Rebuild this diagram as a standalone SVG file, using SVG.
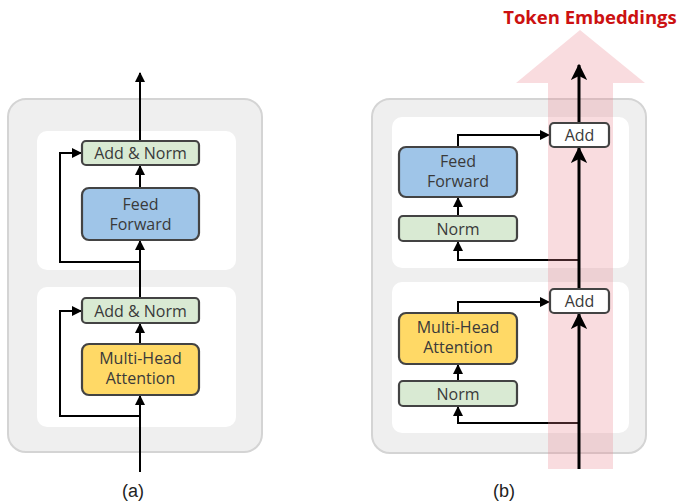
<svg xmlns="http://www.w3.org/2000/svg" width="680" height="502" viewBox="0 0 680 502">
  <defs>
    <style>
      .outer { fill: #efefef; stroke: #d4d4d4; stroke-width: 2; }
      .inner { fill: #ffffff; }
      .node { stroke: #434343; stroke-width: 2.2; }
      .green { fill: #d9ead3; }
      .blue { fill: #9fc5e8; }
      .yellow { fill: #ffd966; }
      .white { fill: #ffffff; }
      .lbl { font-family: "Open Sans", Lato, sans-serif; font-size: 16px; fill: #3a3a3a; text-anchor: middle; }
      .cap { font-family: "Liberation Sans", Arial, sans-serif; font-size: 18px; fill: #222222; text-anchor: middle; }
      .wire { fill: none; stroke: #000000; stroke-width: 2; }
      .main { fill: none; stroke: #000000; stroke-width: 3; }
    </style>
    <marker id="ah" viewBox="0 0 10 10" refX="9" refY="5" markerWidth="5" markerHeight="5" markerUnits="strokeWidth" orient="auto">
      <path d="M0,0 L10,5 L0,10 Z" fill="#000"/>
    </marker>
    <marker id="ahBig" viewBox="0 0 12 12" refX="11" refY="6" markerWidth="5.5" markerHeight="5.5" markerUnits="strokeWidth" orient="auto">
      <path d="M0,0 L12,6 L0,12 L3,6 Z" fill="#000"/>
    </marker>
  </defs>

  <!-- (a) post-norm transformer layer -->
  <g id="panel-a">
    <rect class="outer" x="8" y="99" width="254" height="353" rx="18"/>
    <rect class="inner" x="37" y="131" width="199" height="139" rx="10"/>
    <rect class="inner" x="37" y="287" width="199" height="140" rx="10"/>
  </g>

  <!-- (b) pre-norm layer with the residual stream -->
  <g id="panel-b">
    <rect class="outer" x="372" y="99" width="274" height="354" rx="18"/>
    <rect class="inner" x="392" y="117" width="237" height="151" rx="10"/>
    <rect class="inner" x="392" y="282" width="237" height="151" rx="10"/>
  </g>

  <g id="connectors">
    <!-- panel a -->
    <line class="wire" x1="140" y1="472" x2="140" y2="396" marker-end="url(#ah)"/>
    <line class="wire" x1="140" y1="344" x2="140" y2="324" marker-end="url(#ah)"/>
    <polyline class="wire" points="140,416 60,416 60,311 81,311" marker-end="url(#ah)"/>
    <line class="wire" x1="140" y1="298" x2="140" y2="241" marker-end="url(#ah)"/>
    <polyline class="wire" points="140,262 60,262 60,153 81,153" marker-end="url(#ah)"/>
    <line class="wire" x1="140" y1="188" x2="140" y2="166" marker-end="url(#ah)"/>
    <line class="wire" x1="140" y1="141" x2="140" y2="73" marker-end="url(#ah)"/>
    <!-- panel b -->
    <polyline class="wire" points="579,423 458,423 458,407" marker-end="url(#ah)"/>
    <line class="wire" x1="458" y1="381" x2="458" y2="365" marker-end="url(#ah)"/>
    <polyline class="wire" points="458,313 458,302 549,302" marker-end="url(#ah)"/>
    <polyline class="wire" points="579,260 458,260 458,242" marker-end="url(#ah)"/>
    <line class="wire" x1="458" y1="216" x2="458" y2="198" marker-end="url(#ah)"/>
    <polyline class="wire" points="458,147 458,135 549,135" marker-end="url(#ah)"/>
  </g>

  <!-- residual stream: token embeddings flowing up -->
  <g id="stream">
    <path d="M548,469 L548,83 L516,83 L580,30 L645,83 L613,83 L613,469 Z" fill="#e8828c" fill-opacity="0.28"/>
    <line class="main" x1="579" y1="469" x2="579" y2="314" marker-end="url(#ahBig)"/>
    <line class="main" x1="579" y1="289" x2="579" y2="148" marker-end="url(#ahBig)"/>
    <line class="main" x1="579" y1="123" x2="579" y2="65" marker-end="url(#ahBig)"/>
  </g>

  <g id="a-mha">
    <rect class="node yellow" x="82" y="344" width="117" height="51" rx="7"/>
    <text class="lbl" x="140.5" y="364">Multi-Head</text>
    <text class="lbl" x="140.5" y="384">Attention</text>
  </g>
  <g id="a-addnorm1">
    <rect class="node green" x="82" y="298" width="117" height="25" rx="4"/>
    <text class="lbl" x="140.5" y="316.5">Add &amp; Norm</text>
  </g>
  <g id="a-ff">
    <rect class="node blue" x="82" y="188" width="117" height="52" rx="7"/>
    <text class="lbl" x="140.5" y="210">Feed</text>
    <text class="lbl" x="140.5" y="230">Forward</text>
  </g>
  <g id="a-addnorm2">
    <rect class="node green" x="82" y="141" width="117" height="24" rx="4"/>
    <text class="lbl" x="140.5" y="159">Add &amp; Norm</text>
  </g>

  <g id="b-norm1">
    <rect class="node green" x="399" y="381" width="118" height="25" rx="4"/>
    <text class="lbl" x="458" y="399.5">Norm</text>
  </g>
  <g id="b-mha">
    <rect class="node yellow" x="399" y="313" width="118" height="51" rx="7"/>
    <text class="lbl" x="458" y="333">Multi-Head</text>
    <text class="lbl" x="458" y="353">Attention</text>
  </g>
  <g id="b-add1">
    <rect class="node white" x="550" y="289" width="59" height="24" rx="4"/>
    <text class="lbl" x="579.5" y="307">Add</text>
  </g>
  <g id="b-norm2">
    <rect class="node green" x="399" y="216" width="118" height="25" rx="4"/>
    <text class="lbl" x="458" y="234.5">Norm</text>
  </g>
  <g id="b-ff">
    <rect class="node blue" x="399" y="147" width="118" height="50" rx="7"/>
    <text class="lbl" x="458" y="167">Feed</text>
    <text class="lbl" x="458" y="187">Forward</text>
  </g>
  <g id="b-add2">
    <rect class="node white" x="550" y="123" width="59" height="24" rx="4"/>
    <text class="lbl" x="579.5" y="141">Add</text>
  </g>

  <text x="590" y="24" font-family="'Open Sans', Lato, sans-serif" font-size="18.5" font-weight="bold" fill="#cc1111" text-anchor="middle">Token Embeddings</text>
  <text class="cap" x="133" y="497">(a)</text>
  <text class="cap" x="504" y="497">(b)</text>
</svg>
